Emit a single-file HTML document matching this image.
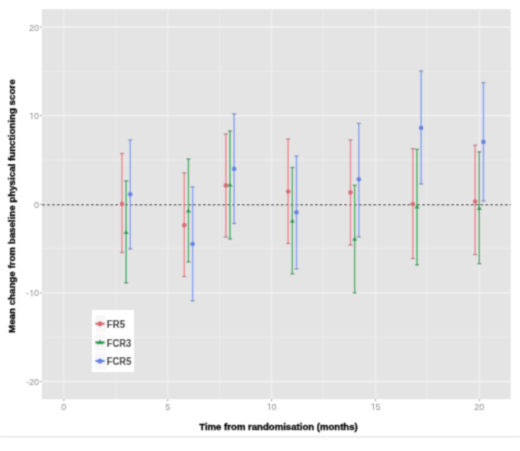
<!DOCTYPE html>
<html><head><meta charset="utf-8"><title>Mean change from baseline physical functioning score</title><style>
html,body{margin:0;padding:0;background:#fff;width:520px;height:451px;overflow:hidden;font-family:"Liberation Sans",sans-serif;}
svg{position:absolute;left:0;top:0;display:block}
</style></head><body>
<svg width="520" height="451" viewBox="0 0 520 451" font-family="Liberation Sans, sans-serif"><defs><filter id="bl" x="0" y="0" width="520" height="451" filterUnits="userSpaceOnUse"><feConvolveMatrix order="3" kernelMatrix="1 3 1 3 9 3 1 3 1" divisor="25" edgeMode="none"/></filter></defs><g filter="url(#bl)"><rect x="41.8" y="9.2" width="468.9" height="390.0" fill="#E4E4E4"/><line x1="115.74" y1="9.2" x2="115.74" y2="399.2" stroke="#EBEBEB" stroke-width="1"/><line x1="219.61" y1="9.2" x2="219.61" y2="399.2" stroke="#EBEBEB" stroke-width="1"/><line x1="323.49" y1="9.2" x2="323.49" y2="399.2" stroke="#EBEBEB" stroke-width="1"/><line x1="427.36" y1="9.2" x2="427.36" y2="399.2" stroke="#EBEBEB" stroke-width="1"/><line x1="41.8" y1="71.33" x2="510.7" y2="71.33" stroke="#EBEBEB" stroke-width="1"/><line x1="41.8" y1="159.95" x2="510.7" y2="159.95" stroke="#EBEBEB" stroke-width="1"/><line x1="41.8" y1="248.57" x2="510.7" y2="248.57" stroke="#EBEBEB" stroke-width="1"/><line x1="41.8" y1="337.19" x2="510.7" y2="337.19" stroke="#EBEBEB" stroke-width="1"/><line x1="63.80" y1="9.2" x2="63.80" y2="399.2" stroke="#EDEDED" stroke-width="1.5"/><line x1="167.68" y1="9.2" x2="167.68" y2="399.2" stroke="#EDEDED" stroke-width="1.5"/><line x1="271.55" y1="9.2" x2="271.55" y2="399.2" stroke="#EDEDED" stroke-width="1.5"/><line x1="375.43" y1="9.2" x2="375.43" y2="399.2" stroke="#EDEDED" stroke-width="1.5"/><line x1="479.30" y1="9.2" x2="479.30" y2="399.2" stroke="#EDEDED" stroke-width="1.5"/><line x1="41.8" y1="27.02" x2="510.7" y2="27.02" stroke="#F3F3F3" stroke-width="1.4"/><line x1="41.8" y1="115.64" x2="510.7" y2="115.64" stroke="#F3F3F3" stroke-width="1.4"/><line x1="41.8" y1="204.26" x2="510.7" y2="204.26" stroke="#F3F3F3" stroke-width="1.4"/><line x1="41.8" y1="292.88" x2="510.7" y2="292.88" stroke="#F3F3F3" stroke-width="1.4"/><line x1="41.8" y1="381.50" x2="510.7" y2="381.50" stroke="#F3F3F3" stroke-width="1.4"/><line x1="41.8" y1="204.55" x2="510.7" y2="204.55" stroke="#303030" stroke-width="1.25" stroke-dasharray="2.9 1.97" stroke-dashoffset="4.52"/><line x1="40" y1="27.02" x2="41.8" y2="27.02" stroke="#7F7F7F" stroke-width="0.8"/><line x1="40" y1="115.64" x2="41.8" y2="115.64" stroke="#7F7F7F" stroke-width="0.8"/><line x1="40" y1="204.26" x2="41.8" y2="204.26" stroke="#7F7F7F" stroke-width="0.8"/><line x1="40" y1="292.88" x2="41.8" y2="292.88" stroke="#7F7F7F" stroke-width="0.8"/><line x1="40" y1="381.50" x2="41.8" y2="381.50" stroke="#7F7F7F" stroke-width="0.8"/><line x1="63.80" y1="399.2" x2="63.80" y2="401.2" stroke="#7F7F7F" stroke-width="0.8"/><line x1="167.68" y1="399.2" x2="167.68" y2="401.2" stroke="#7F7F7F" stroke-width="0.8"/><line x1="271.55" y1="399.2" x2="271.55" y2="401.2" stroke="#7F7F7F" stroke-width="0.8"/><line x1="375.43" y1="399.2" x2="375.43" y2="401.2" stroke="#7F7F7F" stroke-width="0.8"/><line x1="479.30" y1="399.2" x2="479.30" y2="401.2" stroke="#7F7F7F" stroke-width="0.8"/><line x1="121.97" y1="153.5" x2="121.97" y2="252.5" stroke="#EE848B" stroke-width="1.45"/><line x1="119.97" y1="153.5" x2="123.97" y2="153.5" stroke="#B47C84" stroke-width="1.3"/><line x1="119.97" y1="252.5" x2="123.97" y2="252.5" stroke="#B47C84" stroke-width="1.3"/><line x1="184.29" y1="173" x2="184.29" y2="276.5" stroke="#EE848B" stroke-width="1.45"/><line x1="182.29" y1="173" x2="186.29" y2="173" stroke="#B47C84" stroke-width="1.3"/><line x1="182.29" y1="276.5" x2="186.29" y2="276.5" stroke="#B47C84" stroke-width="1.3"/><line x1="225.84" y1="134" x2="225.84" y2="236.9" stroke="#EE848B" stroke-width="1.45"/><line x1="223.84" y1="134" x2="227.84" y2="134" stroke="#B47C84" stroke-width="1.3"/><line x1="223.84" y1="236.9" x2="227.84" y2="236.9" stroke="#B47C84" stroke-width="1.3"/><line x1="288.17" y1="139" x2="288.17" y2="243.5" stroke="#EE848B" stroke-width="1.45"/><line x1="286.17" y1="139" x2="290.17" y2="139" stroke="#B47C84" stroke-width="1.3"/><line x1="286.17" y1="243.5" x2="290.17" y2="243.5" stroke="#B47C84" stroke-width="1.3"/><line x1="350.5" y1="140" x2="350.5" y2="245" stroke="#EE848B" stroke-width="1.45"/><line x1="348.5" y1="140" x2="352.5" y2="140" stroke="#B47C84" stroke-width="1.3"/><line x1="348.5" y1="245" x2="352.5" y2="245" stroke="#B47C84" stroke-width="1.3"/><line x1="412.82" y1="148.6" x2="412.82" y2="258.5" stroke="#EE848B" stroke-width="1.45"/><line x1="410.82" y1="148.6" x2="414.82" y2="148.6" stroke="#B47C84" stroke-width="1.3"/><line x1="410.82" y1="258.5" x2="414.82" y2="258.5" stroke="#B47C84" stroke-width="1.3"/><line x1="475.14" y1="145.3" x2="475.14" y2="254.6" stroke="#EE848B" stroke-width="1.45"/><line x1="473.14" y1="145.3" x2="477.14" y2="145.3" stroke="#B47C84" stroke-width="1.3"/><line x1="473.14" y1="254.6" x2="477.14" y2="254.6" stroke="#B47C84" stroke-width="1.3"/><circle cx="121.97" cy="203.9" r="2.35" fill="#D86A76"/><circle cx="184.29" cy="225.2" r="2.35" fill="#D86A76"/><circle cx="225.84" cy="185.4" r="2.35" fill="#D86A76"/><circle cx="288.17" cy="191.5" r="2.35" fill="#D86A76"/><circle cx="350.5" cy="192.4" r="2.35" fill="#D86A76"/><circle cx="412.82" cy="204" r="2.35" fill="#D86A76"/><circle cx="475.14" cy="201.5" r="2.35" fill="#D86A76"/><line x1="126.12" y1="180.9" x2="126.12" y2="282.9" stroke="#34B05E" stroke-width="1.45"/><line x1="124.12" y1="180.9" x2="128.12" y2="180.9" stroke="#55906A" stroke-width="1.3"/><line x1="124.12" y1="282.9" x2="128.12" y2="282.9" stroke="#55906A" stroke-width="1.3"/><line x1="188.45" y1="159" x2="188.45" y2="261.9" stroke="#34B05E" stroke-width="1.45"/><line x1="186.45" y1="159" x2="190.45" y2="159" stroke="#55906A" stroke-width="1.3"/><line x1="186.45" y1="261.9" x2="190.45" y2="261.9" stroke="#55906A" stroke-width="1.3"/><line x1="230.0" y1="131" x2="230.0" y2="238.9" stroke="#34B05E" stroke-width="1.45"/><line x1="228.0" y1="131" x2="232.0" y2="131" stroke="#55906A" stroke-width="1.3"/><line x1="228.0" y1="238.9" x2="232.0" y2="238.9" stroke="#55906A" stroke-width="1.3"/><line x1="292.32" y1="167.5" x2="292.32" y2="273.8" stroke="#34B05E" stroke-width="1.45"/><line x1="290.32" y1="167.5" x2="294.32" y2="167.5" stroke="#55906A" stroke-width="1.3"/><line x1="290.32" y1="273.8" x2="294.32" y2="273.8" stroke="#55906A" stroke-width="1.3"/><line x1="354.65" y1="185.3" x2="354.65" y2="292.8" stroke="#34B05E" stroke-width="1.45"/><line x1="352.65" y1="185.3" x2="356.65" y2="185.3" stroke="#55906A" stroke-width="1.3"/><line x1="352.65" y1="292.8" x2="356.65" y2="292.8" stroke="#55906A" stroke-width="1.3"/><line x1="416.97" y1="149.4" x2="416.97" y2="264.9" stroke="#34B05E" stroke-width="1.45"/><line x1="414.97" y1="149.4" x2="418.97" y2="149.4" stroke="#55906A" stroke-width="1.3"/><line x1="414.97" y1="264.9" x2="418.97" y2="264.9" stroke="#55906A" stroke-width="1.3"/><line x1="479.3" y1="151.8" x2="479.3" y2="263.7" stroke="#34B05E" stroke-width="1.45"/><line x1="477.3" y1="151.8" x2="481.3" y2="151.8" stroke="#55906A" stroke-width="1.3"/><line x1="477.3" y1="263.7" x2="481.3" y2="263.7" stroke="#55906A" stroke-width="1.3"/><path d="M123.52000000000001,234.0 L128.72,234.0 L126.12,229.8 Z" fill="#22994A"/><path d="M185.85,212.5 L191.04999999999998,212.5 L188.45,208.3 Z" fill="#22994A"/><path d="M227.4,186.6 L232.6,186.6 L230.0,182.4 Z" fill="#22994A"/><path d="M289.71999999999997,222.6 L294.92,222.6 L292.32,218.4 Z" fill="#22994A"/><path d="M352.04999999999995,240.79999999999998 L357.25,240.79999999999998 L354.65,236.6 Z" fill="#22994A"/><path d="M414.37,208.5 L419.57000000000005,208.5 L416.97,204.3 Z" fill="#22994A"/><path d="M476.7,209.9 L481.90000000000003,209.9 L479.3,205.70000000000002 Z" fill="#22994A"/><line x1="130.28" y1="140" x2="130.28" y2="248.9" stroke="#7F9FF2" stroke-width="1.45"/><line x1="128.28" y1="140" x2="132.28" y2="140" stroke="#7C8CBC" stroke-width="1.3"/><line x1="128.28" y1="248.9" x2="132.28" y2="248.9" stroke="#7C8CBC" stroke-width="1.3"/><line x1="192.61" y1="186.9" x2="192.61" y2="300.8" stroke="#7F9FF2" stroke-width="1.45"/><line x1="190.61" y1="186.9" x2="194.61" y2="186.9" stroke="#7C8CBC" stroke-width="1.3"/><line x1="190.61" y1="300.8" x2="194.61" y2="300.8" stroke="#7C8CBC" stroke-width="1.3"/><line x1="234.15" y1="114" x2="234.15" y2="223.5" stroke="#7F9FF2" stroke-width="1.45"/><line x1="232.15" y1="114" x2="236.15" y2="114" stroke="#7C8CBC" stroke-width="1.3"/><line x1="232.15" y1="223.5" x2="236.15" y2="223.5" stroke="#7C8CBC" stroke-width="1.3"/><line x1="296.48" y1="156" x2="296.48" y2="268.9" stroke="#7F9FF2" stroke-width="1.45"/><line x1="294.48" y1="156" x2="298.48" y2="156" stroke="#7C8CBC" stroke-width="1.3"/><line x1="294.48" y1="268.9" x2="298.48" y2="268.9" stroke="#7C8CBC" stroke-width="1.3"/><line x1="358.8" y1="123.4" x2="358.8" y2="236.9" stroke="#7F9FF2" stroke-width="1.45"/><line x1="356.8" y1="123.4" x2="360.8" y2="123.4" stroke="#7C8CBC" stroke-width="1.3"/><line x1="356.8" y1="236.9" x2="360.8" y2="236.9" stroke="#7C8CBC" stroke-width="1.3"/><line x1="421.13" y1="71" x2="421.13" y2="183.9" stroke="#7F9FF2" stroke-width="1.45"/><line x1="419.13" y1="71" x2="423.13" y2="71" stroke="#7C8CBC" stroke-width="1.3"/><line x1="419.13" y1="183.9" x2="423.13" y2="183.9" stroke="#7C8CBC" stroke-width="1.3"/><line x1="483.45" y1="82.6" x2="483.45" y2="201.0" stroke="#7F9FF2" stroke-width="1.45"/><line x1="481.45" y1="82.6" x2="485.45" y2="82.6" stroke="#7C8CBC" stroke-width="1.3"/><line x1="481.45" y1="201.0" x2="485.45" y2="201.0" stroke="#7C8CBC" stroke-width="1.3"/><circle cx="130.28" cy="194.3" r="2.35" fill="#6484DE"/><circle cx="192.61" cy="244" r="2.35" fill="#6484DE"/><circle cx="234.15" cy="168.9" r="2.35" fill="#6484DE"/><circle cx="296.48" cy="212.4" r="2.35" fill="#6484DE"/><circle cx="358.8" cy="179.3" r="2.35" fill="#6484DE"/><circle cx="421.13" cy="127.9" r="2.35" fill="#6484DE"/><circle cx="483.45" cy="141.9" r="2.35" fill="#6484DE"/><rect x="92" y="310" width="42" height="62" fill="#FFFFFF"/><rect x="95" y="315.3" width="11" height="17" fill="#F7F7F7"/><line x1="95.3" y1="323.8" x2="104.7" y2="323.8" stroke="#D86A76" stroke-width="2.2"/><circle cx="100" cy="323.8" r="2.6" fill="#D86A76"/><rect x="95" y="333.90000000000003" width="11" height="17" fill="#F7F7F7"/><line x1="95.3" y1="342.40000000000003" x2="104.7" y2="342.40000000000003" stroke="#22994A" stroke-width="2.2"/><path d="M96.6,344.20000000000005 L103.4,344.20000000000005 L100,339.40000000000003 Z" fill="#22994A"/><rect x="95" y="352.5" width="11" height="17" fill="#F7F7F7"/><line x1="95.3" y1="361.0" x2="104.7" y2="361.0" stroke="#6484DE" stroke-width="2.2"/><circle cx="100" cy="361.0" r="2.6" fill="#6484DE"/><rect x="0" y="436" width="520" height="1.6" fill="#E8E8E8"/><text x="106.8" y="328.0" font-weight="bold" font-size="10.0" textLength="18.2" lengthAdjust="spacingAndGlyphs" fill="#1A1A1A" stroke="#1A1A1A" stroke-width="0.05">FR5</text><text x="106.8" y="346.6" font-weight="bold" font-size="10.0" textLength="24.4" lengthAdjust="spacingAndGlyphs" fill="#1A1A1A" stroke="#1A1A1A" stroke-width="0.05">FCR3</text><text x="106.8" y="365.2" font-weight="bold" font-size="10.0" textLength="24.6" lengthAdjust="spacingAndGlyphs" fill="#1A1A1A" stroke="#1A1A1A" stroke-width="0.05">FCR5</text><text x="28.99" y="30.62" font-size="9.0" fill="#8E8E8E">20</text><path d="M31.56,119.24 L32.37,119.24 L32.37,112.80 L31.84,112.80 L29.98,113.84 L29.98,114.56 L31.56,113.66 Z" fill="#8E8E8E"/><text x="34.00" y="119.24" font-size="9.0" fill="#8E8E8E">0</text><text x="34.00" y="207.86" font-size="9.0" fill="#8E8E8E">0</text><text x="25.99" y="296.48" font-size="9.0" fill="#8E8E8E">-</text><path d="M31.56,296.48 L32.37,296.48 L32.37,290.04 L31.84,290.04 L29.98,291.08 L29.98,291.80 L31.56,290.90 Z" fill="#8E8E8E"/><text x="34.00" y="296.48" font-size="9.0" fill="#8E8E8E">0</text><text x="25.99" y="385.10" font-size="9.0" fill="#8E8E8E">-20</text><text x="61.30" y="410.00" font-size="9.0" fill="#8E8E8E">0</text><text x="165.17" y="410.00" font-size="9.0" fill="#8E8E8E">5</text><path d="M269.11,410.00 L269.92,410.00 L269.92,403.56 L269.40,403.56 L267.54,404.60 L267.54,405.32 L269.11,404.42 Z" fill="#8E8E8E"/><text x="271.55" y="410.00" font-size="9.0" fill="#8E8E8E">0</text><path d="M372.99,410.00 L373.80,410.00 L373.80,403.56 L373.27,403.56 L371.41,404.60 L371.41,405.32 L372.99,404.42 Z" fill="#8E8E8E"/><text x="375.43" y="410.00" font-size="9.0" fill="#8E8E8E">5</text><text x="474.30" y="410.00" font-size="9.0" fill="#8E8E8E">20</text><text x="278.5" y="430" text-anchor="middle" font-weight="bold" font-size="9.6" textLength="158.5" lengthAdjust="spacingAndGlyphs" fill="#000" stroke="#000" stroke-width="0.3">Time from randomisation (months)</text><text transform="translate(15.3,206.2) rotate(-90)" x="0" y="0" text-anchor="middle" font-weight="bold" font-size="9.7" textLength="253.5" lengthAdjust="spacingAndGlyphs" fill="#000" stroke="#000" stroke-width="0.3">Mean change from baseline physical functioning score</text></g></svg>
</body></html>
